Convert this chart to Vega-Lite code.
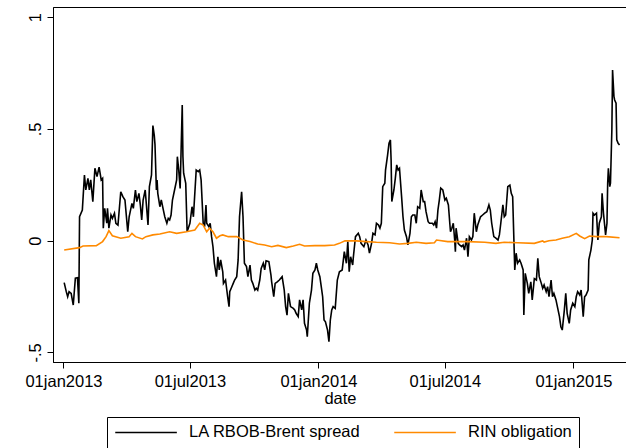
{
  "$schema": "https://vega.github.io/schema/vega-lite/v6.json",
  "width": 574,
  "height": 355,
  "autosize": "none",
  "padding": {"left": 53, "top": 7, "right": 0, "bottom": 86},
  "background": "white",
  "config": {
    "font": "Liberation Sans",
    "view": {"stroke": "#000", "strokeWidth": 1},
    "axis": {"grid": false, "domainColor": "#000", "tickColor": "#000", "labelColor": "#000", "titleColor": "#000", "labelFont": "Liberation Sans", "titleFont": "Liberation Sans", "labelFontSize": 16.5, "titleFontSize": 16.5, "titleFontWeight": "normal", "tickSize": 6, "domainWidth": 1, "tickWidth": 1},
    "legend": {"orient": "none", "legendX": 54, "legendY": 410, "direction": "horizontal", "strokeColor": "#000", "strokeWidth": 1, "padding": 7, "symbolType": "M-1,0L7.8,0", "symbolSize": 196, "symbolStrokeWidth": 1.5, "labelFontSize": 16.5, "labelFont": "Liberation Sans", "labelColor": "#000", "labelOffset": 58.6, "labelLimit": 400, "columnPadding": 30, "fillColor": "white"}
  },
  "datasets": {
    "spread": [
      {"date": "2013-01-02", "value": -0.188}, {"date": "2013-01-05", "value": -0.228}, {"date": "2013-01-07", "value": -0.251}, {"date": "2013-01-09", "value": -0.228}, {"date": "2013-01-12", "value": -0.236}, {"date": "2013-01-15", "value": -0.288}, {"date": "2013-01-18", "value": -0.168}, {"date": "2013-01-21", "value": -0.166}, {"date": "2013-01-23", "value": -0.280}, {"date": "2013-01-24", "value": 0.107}, {"date": "2013-01-28", "value": 0.137}, {"date": "2013-01-31", "value": 0.294},
      {"date": "2013-02-02", "value": 0.227}, {"date": "2013-02-05", "value": 0.279}, {"date": "2013-02-07", "value": 0.227}, {"date": "2013-02-09", "value": 0.272}, {"date": "2013-02-12", "value": 0.175}, {"date": "2013-02-15", "value": 0.324}, {"date": "2013-02-18", "value": 0.287}, {"date": "2013-02-21", "value": 0.329}, {"date": "2013-02-24", "value": 0.272}, {"date": "2013-02-26", "value": 0.279}, {"date": "2013-02-27", "value": 0.056},
      {"date": "2013-03-01", "value": 0.145}, {"date": "2013-03-04", "value": 0.078}, {"date": "2013-03-05", "value": 0.145}, {"date": "2013-03-07", "value": 0.056}, {"date": "2013-03-10", "value": 0.115}, {"date": "2013-03-12", "value": 0.100}, {"date": "2013-03-15", "value": 0.123}, {"date": "2013-03-17", "value": 0.078}, {"date": "2013-03-20", "value": 0.070}, {"date": "2013-03-24", "value": 0.219}, {"date": "2013-03-27", "value": 0.197}, {"date": "2013-03-30", "value": 0.182},
      {"date": "2013-04-03", "value": 0.040}, {"date": "2013-04-05", "value": 0.107}, {"date": "2013-04-09", "value": 0.167}, {"date": "2013-04-11", "value": 0.145}, {"date": "2013-04-14", "value": 0.227}, {"date": "2013-04-16", "value": 0.175}, {"date": "2013-04-19", "value": 0.212}, {"date": "2013-04-21", "value": 0.160}, {"date": "2013-04-23", "value": 0.093}, {"date": "2013-04-25", "value": 0.182}, {"date": "2013-04-28", "value": 0.227},
      {"date": "2013-05-02", "value": 0.070}, {"date": "2013-05-04", "value": 0.242}, {"date": "2013-05-07", "value": 0.294}, {"date": "2013-05-09", "value": 0.515}, {"date": "2013-05-11", "value": 0.470}, {"date": "2013-05-12", "value": 0.430}, {"date": "2013-05-14", "value": 0.227}, {"date": "2013-05-15", "value": 0.272}, {"date": "2013-05-16", "value": 0.212}, {"date": "2013-05-19", "value": 0.152}, {"date": "2013-05-21", "value": 0.182}, {"date": "2013-05-24", "value": 0.137}, {"date": "2013-05-26", "value": 0.107}, {"date": "2013-05-29", "value": 0.078}, {"date": "2013-05-31", "value": 0.100},
      {"date": "2013-06-02", "value": 0.093}, {"date": "2013-06-04", "value": 0.115}, {"date": "2013-06-06", "value": 0.182}, {"date": "2013-06-09", "value": 0.227}, {"date": "2013-06-12", "value": 0.272}, {"date": "2013-06-13", "value": 0.376}, {"date": "2013-06-15", "value": 0.316}, {"date": "2013-06-17", "value": 0.234}, {"date": "2013-06-20", "value": 0.607}, {"date": "2013-06-21", "value": 0.376}, {"date": "2013-06-22", "value": 0.302}, {"date": "2013-06-25", "value": 0.257}, {"date": "2013-06-27", "value": 0.040},
      {"date": "2013-07-01", "value": 0.078}, {"date": "2013-07-04", "value": 0.152}, {"date": "2013-07-06", "value": 0.107}, {"date": "2013-07-10", "value": 0.316}, {"date": "2013-07-13", "value": 0.309}, {"date": "2013-07-15", "value": 0.316}, {"date": "2013-07-17", "value": 0.272}, {"date": "2013-07-20", "value": 0.078}, {"date": "2013-07-22", "value": 0.063}, {"date": "2013-07-24", "value": 0.160}, {"date": "2013-07-25", "value": 0.078}, {"date": "2013-07-28", "value": 0.063}, {"date": "2013-07-30", "value": 0.078},
      {"date": "2013-08-01", "value": 0.018}, {"date": "2013-08-03", "value": -0.027}, {"date": "2013-08-05", "value": -0.101}, {"date": "2013-08-08", "value": -0.161}, {"date": "2013-08-10", "value": -0.072}, {"date": "2013-08-12", "value": -0.131}, {"date": "2013-08-14", "value": -0.086}, {"date": "2013-08-17", "value": -0.139}, {"date": "2013-08-18", "value": -0.191}, {"date": "2013-08-21", "value": -0.176}, {"date": "2013-08-24", "value": -0.251}, {"date": "2013-08-26", "value": -0.295}, {"date": "2013-08-27", "value": -0.228}, {"date": "2013-08-30", "value": -0.206},
      {"date": "2013-09-01", "value": -0.191}, {"date": "2013-09-03", "value": -0.176}, {"date": "2013-09-06", "value": -0.161}, {"date": "2013-09-08", "value": -0.086}, {"date": "2013-09-10", "value": 0.107}, {"date": "2013-09-13", "value": 0.219}, {"date": "2013-09-15", "value": 0.107}, {"date": "2013-09-17", "value": -0.101}, {"date": "2013-09-20", "value": -0.116}, {"date": "2013-09-22", "value": -0.161}, {"date": "2013-09-25", "value": -0.109}, {"date": "2013-09-27", "value": -0.176}, {"date": "2013-09-29", "value": -0.191},
      {"date": "2013-10-02", "value": -0.221}, {"date": "2013-10-04", "value": -0.213}, {"date": "2013-10-06", "value": -0.221}, {"date": "2013-10-09", "value": -0.176}, {"date": "2013-10-11", "value": -0.124}, {"date": "2013-10-14", "value": -0.101}, {"date": "2013-10-16", "value": -0.131}, {"date": "2013-10-18", "value": -0.090}, {"date": "2013-10-22", "value": -0.094}, {"date": "2013-10-25", "value": -0.154}, {"date": "2013-10-26", "value": -0.184}, {"date": "2013-10-29", "value": -0.251}, {"date": "2013-10-31", "value": -0.191},
      {"date": "2013-11-03", "value": -0.184}, {"date": "2013-11-06", "value": -0.176}, {"date": "2013-11-10", "value": -0.161}, {"date": "2013-11-13", "value": -0.221}, {"date": "2013-11-15", "value": -0.295}, {"date": "2013-11-17", "value": -0.333}, {"date": "2013-11-19", "value": -0.236}, {"date": "2013-11-22", "value": -0.295}, {"date": "2013-11-26", "value": -0.303}, {"date": "2013-11-28", "value": -0.310}, {"date": "2013-11-30", "value": -0.325},
      {"date": "2013-12-03", "value": -0.340}, {"date": "2013-12-05", "value": -0.265}, {"date": "2013-12-08", "value": -0.310}, {"date": "2013-12-10", "value": -0.265}, {"date": "2013-12-12", "value": -0.370}, {"date": "2013-12-15", "value": -0.400}, {"date": "2013-12-16", "value": -0.430}, {"date": "2013-12-19", "value": -0.280}, {"date": "2013-12-22", "value": -0.221}, {"date": "2013-12-24", "value": -0.146}, {"date": "2013-12-27", "value": -0.131}, {"date": "2013-12-29", "value": -0.101}, {"date": "2013-12-31", "value": -0.131},
      {"date": "2014-01-03", "value": -0.161}, {"date": "2014-01-05", "value": -0.206}, {"date": "2014-01-07", "value": -0.251}, {"date": "2014-01-09", "value": -0.355}, {"date": "2014-01-11", "value": -0.363}, {"date": "2014-01-14", "value": -0.400}, {"date": "2014-01-16", "value": -0.452}, {"date": "2014-01-18", "value": -0.355}, {"date": "2014-01-20", "value": -0.310}, {"date": "2014-01-22", "value": -0.295}, {"date": "2014-01-25", "value": -0.303}, {"date": "2014-01-28", "value": -0.176}, {"date": "2014-01-31", "value": -0.139},
      {"date": "2014-02-04", "value": -0.131}, {"date": "2014-02-07", "value": -0.049}, {"date": "2014-02-10", "value": -0.101}, {"date": "2014-02-12", "value": -0.004}, {"date": "2014-02-14", "value": -0.139}, {"date": "2014-02-16", "value": -0.072}, {"date": "2014-02-19", "value": -0.109}, {"date": "2014-02-20", "value": -0.072}, {"date": "2014-02-23", "value": 0.018}, {"date": "2014-02-27", "value": 0.033},
      {"date": "2014-03-01", "value": 0.018}, {"date": "2014-03-03", "value": -0.012}, {"date": "2014-03-07", "value": -0.027}, {"date": "2014-03-10", "value": 0.003}, {"date": "2014-03-13", "value": -0.019}, {"date": "2014-03-15", "value": -0.056}, {"date": "2014-03-18", "value": -0.012}, {"date": "2014-03-20", "value": 0.033}, {"date": "2014-03-23", "value": 0.026}, {"date": "2014-03-25", "value": 0.078}, {"date": "2014-03-28", "value": 0.070}, {"date": "2014-03-30", "value": 0.056},
      {"date": "2014-04-01", "value": 0.078}, {"date": "2014-04-03", "value": 0.242}, {"date": "2014-04-06", "value": 0.257}, {"date": "2014-04-07", "value": 0.316}, {"date": "2014-04-10", "value": 0.384}, {"date": "2014-04-12", "value": 0.436}, {"date": "2014-04-14", "value": 0.451}, {"date": "2014-04-15", "value": 0.361}, {"date": "2014-04-16", "value": 0.175}, {"date": "2014-04-19", "value": 0.227}, {"date": "2014-04-21", "value": 0.279}, {"date": "2014-04-23", "value": 0.339}, {"date": "2014-04-25", "value": 0.316}, {"date": "2014-04-27", "value": 0.324}, {"date": "2014-04-30", "value": 0.197},
      {"date": "2014-05-02", "value": 0.107}, {"date": "2014-05-04", "value": 0.048}, {"date": "2014-05-07", "value": 0.018}, {"date": "2014-05-09", "value": -0.019}, {"date": "2014-05-12", "value": 0.033}, {"date": "2014-05-14", "value": 0.107}, {"date": "2014-05-16", "value": 0.115}, {"date": "2014-05-19", "value": 0.115}, {"date": "2014-05-21", "value": 0.078}, {"date": "2014-05-23", "value": 0.152}, {"date": "2014-05-26", "value": 0.145}, {"date": "2014-05-28", "value": 0.227}, {"date": "2014-05-31", "value": 0.175},
      {"date": "2014-06-02", "value": 0.175}, {"date": "2014-06-04", "value": 0.130}, {"date": "2014-06-07", "value": 0.085}, {"date": "2014-06-09", "value": 0.078}, {"date": "2014-06-13", "value": 0.078}, {"date": "2014-06-15", "value": 0.070}, {"date": "2014-06-17", "value": 0.085}, {"date": "2014-06-19", "value": 0.056}, {"date": "2014-06-21", "value": 0.137}, {"date": "2014-06-23", "value": 0.182}, {"date": "2014-06-25", "value": 0.235}, {"date": "2014-06-28", "value": 0.227},
      {"date": "2014-07-01", "value": 0.182}, {"date": "2014-07-03", "value": 0.190}, {"date": "2014-07-06", "value": 0.160}, {"date": "2014-07-08", "value": 0.078}, {"date": "2014-07-09", "value": 0.040}, {"date": "2014-07-11", "value": 0.056}, {"date": "2014-07-13", "value": 0.078}, {"date": "2014-07-15", "value": 0.003}, {"date": "2014-07-16", "value": -0.049}, {"date": "2014-07-17", "value": 0.056}, {"date": "2014-07-20", "value": -0.012}, {"date": "2014-07-22", "value": -0.019}, {"date": "2014-07-25", "value": -0.027}, {"date": "2014-07-27", "value": -0.019}, {"date": "2014-07-29", "value": -0.042},
      {"date": "2014-08-01", "value": 0.011}, {"date": "2014-08-03", "value": -0.072}, {"date": "2014-08-05", "value": 0.018}, {"date": "2014-08-08", "value": 0.003}, {"date": "2014-08-10", "value": 0.018}, {"date": "2014-08-12", "value": 0.123}, {"date": "2014-08-15", "value": 0.040}, {"date": "2014-08-17", "value": 0.070}, {"date": "2014-08-21", "value": 0.107}, {"date": "2014-08-24", "value": 0.115}, {"date": "2014-08-27", "value": 0.123}, {"date": "2014-08-30", "value": 0.130},
      {"date": "2014-09-02", "value": 0.160}, {"date": "2014-09-04", "value": 0.137}, {"date": "2014-09-06", "value": 0.078}, {"date": "2014-09-09", "value": 0.018}, {"date": "2014-09-12", "value": 0.011}, {"date": "2014-09-15", "value": 0.003}, {"date": "2014-09-17", "value": 0.026}, {"date": "2014-09-19", "value": 0.078}, {"date": "2014-09-22", "value": 0.160}, {"date": "2014-09-24", "value": 0.107}, {"date": "2014-09-26", "value": 0.115}, {"date": "2014-09-29", "value": 0.242},
      {"date": "2014-10-02", "value": 0.249}, {"date": "2014-10-04", "value": 0.212}, {"date": "2014-10-06", "value": 0.197}, {"date": "2014-10-09", "value": -0.131}, {"date": "2014-10-11", "value": -0.056}, {"date": "2014-10-13", "value": -0.101}, {"date": "2014-10-16", "value": -0.086}, {"date": "2014-10-18", "value": -0.101}, {"date": "2014-10-21", "value": -0.131}, {"date": "2014-10-22", "value": -0.333}, {"date": "2014-10-24", "value": -0.146}, {"date": "2014-10-27", "value": -0.191}, {"date": "2014-10-29", "value": -0.236},
      {"date": "2014-11-01", "value": -0.184}, {"date": "2014-11-03", "value": -0.265}, {"date": "2014-11-06", "value": -0.170}, {"date": "2014-11-09", "value": -0.176}, {"date": "2014-11-11", "value": -0.079}, {"date": "2014-11-13", "value": -0.161}, {"date": "2014-11-16", "value": -0.191}, {"date": "2014-11-18", "value": -0.213}, {"date": "2014-11-20", "value": -0.198}, {"date": "2014-11-23", "value": -0.228}, {"date": "2014-11-25", "value": -0.206}, {"date": "2014-11-27", "value": -0.251}, {"date": "2014-11-30", "value": -0.176},
      {"date": "2014-12-02", "value": -0.251}, {"date": "2014-12-04", "value": -0.236}, {"date": "2014-12-07", "value": -0.265}, {"date": "2014-12-09", "value": -0.295}, {"date": "2014-12-12", "value": -0.340}, {"date": "2014-12-14", "value": -0.385}, {"date": "2014-12-16", "value": -0.400}, {"date": "2014-12-19", "value": -0.310}, {"date": "2014-12-21", "value": -0.236}, {"date": "2014-12-23", "value": -0.325}, {"date": "2014-12-26", "value": -0.370}, {"date": "2014-12-28", "value": -0.310}, {"date": "2014-12-31", "value": -0.280},
      {"date": "2015-01-03", "value": -0.295}, {"date": "2015-01-05", "value": -0.251}, {"date": "2015-01-07", "value": -0.228}, {"date": "2015-01-10", "value": -0.243}, {"date": "2015-01-12", "value": -0.221}, {"date": "2015-01-15", "value": -0.340}, {"date": "2015-01-17", "value": -0.251}, {"date": "2015-01-19", "value": -0.243}, {"date": "2015-01-22", "value": -0.221}, {"date": "2015-01-23", "value": -0.086}, {"date": "2015-01-26", "value": -0.042}, {"date": "2015-01-28", "value": 0.003}, {"date": "2015-01-29", "value": 0.123}, {"date": "2015-01-31", "value": 0.115},
      {"date": "2015-02-03", "value": 0.123}, {"date": "2015-02-05", "value": 0.003}, {"date": "2015-02-07", "value": 0.078}, {"date": "2015-02-10", "value": 0.107}, {"date": "2015-02-11", "value": 0.212}, {"date": "2015-02-13", "value": 0.123}, {"date": "2015-02-16", "value": 0.026}, {"date": "2015-02-18", "value": 0.078}, {"date": "2015-02-19", "value": 0.257}, {"date": "2015-02-20", "value": 0.324}, {"date": "2015-02-22", "value": 0.242}, {"date": "2015-02-23", "value": 0.257}, {"date": "2015-02-25", "value": 0.496}, {"date": "2015-02-26", "value": 0.764}, {"date": "2015-02-28", "value": 0.645},
      {"date": "2015-03-01", "value": 0.630}, {"date": "2015-03-03", "value": 0.615}, {"date": "2015-03-04", "value": 0.451}, {"date": "2015-03-06", "value": 0.436}, {"date": "2015-03-08", "value": 0.428}
    ],
    "rin": [
      {"date": "2013-01-02", "value": -0.042}, {"date": "2013-01-24", "value": -0.031}, {"date": "2013-01-29", "value": -0.024}, {"date": "2013-02-17", "value": -0.022}, {"date": "2013-02-26", "value": -0.004}, {"date": "2013-03-03", "value": 0.018}, {"date": "2013-03-07", "value": 0.045}, {"date": "2013-03-12", "value": 0.022}, {"date": "2013-03-24", "value": 0.011}, {"date": "2013-04-05", "value": 0.018}, {"date": "2013-04-09", "value": 0.033}, {"date": "2013-04-14", "value": 0.018}, {"date": "2013-04-24", "value": 0.008}, {"date": "2013-04-29", "value": 0.018}, {"date": "2013-05-09", "value": 0.026}, {"date": "2013-05-19", "value": 0.030}, {"date": "2013-06-02", "value": 0.040}, {"date": "2013-06-12", "value": 0.033}, {"date": "2013-06-26", "value": 0.040}, {"date": "2013-07-08", "value": 0.048}, {"date": "2013-07-15", "value": 0.078}, {"date": "2013-07-20", "value": 0.070}, {"date": "2013-07-25", "value": 0.040}, {"date": "2013-07-29", "value": 0.056}, {"date": "2013-08-03", "value": 0.040}, {"date": "2013-08-08", "value": 0.011}, {"date": "2013-08-13", "value": 0.022}, {"date": "2013-08-17", "value": 0.026}, {"date": "2013-08-25", "value": 0.018}, {"date": "2013-09-06", "value": 0.018}, {"date": "2013-09-15", "value": 0.003}, {"date": "2013-09-25", "value": -0.004}, {"date": "2013-10-06", "value": -0.015}, {"date": "2013-10-16", "value": -0.019}, {"date": "2013-10-26", "value": -0.027}, {"date": "2013-11-04", "value": -0.021}, {"date": "2013-11-16", "value": -0.031}, {"date": "2013-11-26", "value": -0.024}, {"date": "2013-12-05", "value": -0.016}, {"date": "2013-12-12", "value": -0.024}, {"date": "2013-12-27", "value": -0.022},
      {"date": "2014-01-10", "value": -0.022}, {"date": "2014-01-24", "value": -0.019}, {"date": "2014-01-31", "value": -0.012}, {"date": "2014-02-08", "value": 0.000}, {"date": "2014-02-24", "value": -0.001}, {"date": "2014-03-11", "value": -0.004}, {"date": "2014-03-25", "value": -0.007}, {"date": "2014-04-13", "value": -0.009}, {"date": "2014-04-27", "value": -0.015}, {"date": "2014-05-09", "value": -0.012}, {"date": "2014-05-21", "value": -0.007}, {"date": "2014-06-04", "value": -0.012}, {"date": "2014-06-16", "value": -0.009}, {"date": "2014-06-19", "value": 0.003}, {"date": "2014-07-05", "value": -0.004}, {"date": "2014-08-03", "value": -0.004}, {"date": "2014-08-27", "value": -0.007}, {"date": "2014-09-12", "value": -0.012}, {"date": "2014-09-24", "value": -0.007}, {"date": "2014-10-13", "value": -0.009}, {"date": "2014-11-06", "value": -0.012}, {"date": "2014-11-18", "value": -0.001}, {"date": "2014-11-20", "value": -0.006}, {"date": "2014-11-27", "value": 0.000}, {"date": "2014-12-07", "value": 0.003}, {"date": "2014-12-16", "value": 0.011}, {"date": "2014-12-26", "value": 0.018},
      {"date": "2015-01-05", "value": 0.033}, {"date": "2015-01-10", "value": 0.021}, {"date": "2015-01-17", "value": 0.009}, {"date": "2015-01-24", "value": 0.021}, {"date": "2015-02-03", "value": 0.018}, {"date": "2015-02-17", "value": 0.018}, {"date": "2015-03-08", "value": 0.013}
    ]
  },
  "encoding": {
    "x": {"field": "date", "type": "temporal",
      "scale": {"domain": ["2012-12-17", "2015-03-18T16:00:00"]},
      "axis": {"title": "date", "values": [{"year": 2013, "month": 1, "date": 1}, {"year": 2013, "month": 7, "date": 1}, {"year": 2014, "month": 1, "date": 1}, {"year": 2014, "month": 7, "date": 1}, {"year": 2015, "month": 1, "date": 1}],
        "labelExpr": "timeFormat(datum.value, '%d') + lower(timeFormat(datum.value, '%b')) + timeFormat(datum.value, '%Y')",
        "labelPadding": 5, "titlePadding": 1, "labelFlush": false, "labelOverlap": false}},
    "y": {"field": "value", "type": "quantitative",
      "scale": {"domain": [-0.543, 1.046], "nice": false, "zero": false},
      "axis": {"title": null, "values": [-0.5, 0, 0.5, 1], "labelAngle": -90, "labelAlign": "center", "labelBaseline": "bottom", "labelPadding": 4,
        "labelExpr": "datum.value == -0.5 ? '-.5' : datum.value == 0.5 ? '.5' : datum.value == 1 ? '1' : '0'"}}
  },
  "layer": [
    {"data": {"name": "spread"}, "mark": {"type": "line", "strokeWidth": 1.6, "clip": true},
      "encoding": {"color": {"datum": "LA RBOB-Brent spread", "type": "nominal",
        "scale": {"domain": ["LA RBOB-Brent spread", "RIN obligation"], "range": ["#000000", "#ff8a00"]},
        "legend": {"title": null}}}},
    {"data": {"name": "rin"}, "mark": {"type": "line", "strokeWidth": 1.6, "clip": true},
      "encoding": {"color": {"datum": "RIN obligation", "type": "nominal"}}}
  ]
}
